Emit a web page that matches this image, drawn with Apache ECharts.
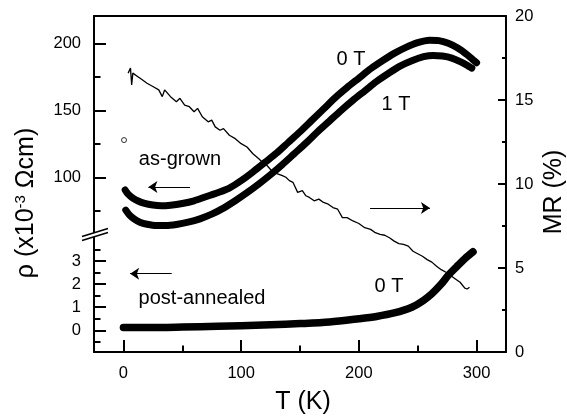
<!DOCTYPE html>
<html><head><meta charset="utf-8">
<script src="https://cdn.jsdelivr.net/npm/echarts@6/dist/echarts.min.js"></script>
<style>html,body{margin:0;padding:0;background:#fff}#c{width:567px;height:420px}</style>
</head><body><div id="c"></div>
<script>
// ---------- data (T in K) ----------
const asGrown0T = [[1.5,90.5],[4,87.5],[8,84.5],[12,82.5],[18,80.5],[25,79.3],[32,78.8],[40,79.2],[50,80.5],[60,82.5],[70,85.5],[80,88.5],[90,92],[100,97.5],[110,104],[120,111],[130,118],[140,126],[150,134],[160,142.5],[170,151],[180,159.5],[190,167],[200,174],[210,181],[220,187],[230,192.5],[240,197],[250,200.5],[260,202.3],[268,202],[276,200],[284,196.5],[292,191.5],[298,187],[300,185.5]];
const asGrown1T = [[2,75.5],[5,72],[9,69],[14,66.5],[20,65],[28,64],[36,64],[45,64.8],[55,66.5],[65,69],[75,72.5],[85,77],[95,82.5],[105,88.5],[115,95],[125,102],[135,109.5],[145,117.5],[155,125.5],[165,134],[175,142],[185,150],[195,157.5],[205,164.5],[215,171.5],[225,177.5],[235,183],[245,187],[255,190],[263,191],[271,190.5],[279,189],[287,186],[293,183],[296,181.5]];
const asGrownOpen = [[0.5,127.8],[2,75.5]];
const postAnnealed0T = [[0,0.12],[20,0.12],[50,0.14],[80,0.17],[100,0.2],[125,0.24],[150,0.29],[175,0.36],[200,0.5],[215,0.6],[230,0.75],[245,1.0],[255,1.3],[262,1.58],[270,2.0],[276,2.38],[283,2.75],[290,3.1],[297,3.4]];
const mrData = [[4,16.6],[6,16.9],[7,15.9],[8,16.6],[12,16.4],[16,16.2],[20,16.0],[25,15.8],[30,15.6],[33,15.2],[35,15.6],[40,15.2],[45,14.9],[48,15.1],[52,14.7],[56,14.6],[60,14.3],[63,14.5],[67,14.0],[72,13.7],[75,13.8],[78,13.4],[82,13.2],[85,13.3],[90,12.9],[95,12.7],[100,12.4],[105,12.2],[110,11.8],[115,11.5],[118,11.3],[122,11.1],[127,10.7],[131,10.6],[135,10.5],[138,10.4],[141,10.2],[144,10.1],[148,9.5],[152,9.6],[155,9.3],[158,9.2],[162,9.0],[166,9.1],[170,8.9],[174,8.8],[178,8.6],[182,8.5],[186,8.0],[190,8.0],[195,7.8],[200,7.65],[205,7.4],[210,7.3],[214,7.1],[218,7.0],[222,6.95],[226,6.8],[230,6.6],[234,6.45],[238,6.4],[242,6.3],[246,6.0],[250,5.85],[254,5.7],[258,5.5],[262,5.35],[266,5.1],[270,4.9],[274,4.75],[278,4.55],[282,4.35],[286,4.15],[290,3.8],[292,3.75],[294,3.85]];

// ---------- tick labels ----------
const tMajor = [0,100,200,300];
const tMinor = [50,150,250];
const mrMajor = [0,5,10,15,20];
const mrMinor = [2.5,7.5,12.5,17.5];
const rhoUpperMajor = [100,150,200];
const rhoUpperMinor = [75,125,175];
const rhoLowerMajor = [0,1,2,3];
const rhoLowerMinor = [-0.5,0.5,1.5,2.5,3.5];

// arrows (data coordinates)
const arrowAsGrown = [[56.6,92.8],[21.2,92.8]];
const arrowPost = [[41,2.45],[5.7,2.45]];
const arrowMR = [[209.5,8.57],[260.4,8.57]];

const FONT = '"Liberation Sans", Arial, Helvetica, sans-serif';
const K = '#000';
const line2 = {color:K,width:2};

function tickAxis(o){
  return Object.assign({
    type:'value', splitLine:{show:false},
    axisLine:{show:false,onZero:false},
    axisLabel:{show:false},
    axisTick:{show:false}
  }, o);
}
function ticks(vals,len){ return {show:true,inside:true,length:len,customValues:vals,lineStyle:{color:K,width:2}}; }
function labels(vals,margin){ return {show:true,customValues:vals,margin:margin,color:K,fontSize:16.5,fontFamily:FONT}; }
function arrowML(pts){
  return {silent:true,symbol:['none','arrow'],symbolSize:9,label:{show:false},
    lineStyle:{color:K,width:1.2,type:'solid'},emphasis:{disabled:true},
    data:[[{coord:pts[0]},{coord:pts[1]}]]};
}
function thick(w){ return {color:K,width:w,cap:'round',join:'round'}; }

const chart = echarts.init(document.getElementById('c'));
chart.setOption({
  animation:false,
  backgroundColor:'#fff',
  grid:[
    {left:94,right:61,top:16,bottom:68},
    {left:94,right:61,top:16,bottom:187.3},
    {left:94,right:61,top:232.7,bottom:68}
  ],
  xAxis:[
    tickAxis({gridIndex:0,min:-25,max:325,position:'bottom',axisLine:{show:true,onZero:false,lineStyle:line2},axisTick:ticks(tMajor,12),axisLabel:labels(tMajor,13)}),
    tickAxis({gridIndex:0,min:-25,max:325,position:'bottom',axisTick:ticks(tMinor,6.5)}),
    tickAxis({gridIndex:0,min:-25,max:325,position:'top',axisLine:{show:true,onZero:false,lineStyle:line2}}),
    tickAxis({gridIndex:1,min:-25,max:325,show:false}),
    tickAxis({gridIndex:2,min:-25,max:325,show:false})
  ],
  yAxis:[
    tickAxis({gridIndex:0,min:0,max:20,position:'right',axisLine:{show:true,onZero:false,lineStyle:line2},axisTick:ticks(mrMajor,8),axisLabel:labels(mrMajor,9)}),
    tickAxis({gridIndex:0,min:0,max:20,position:'right',axisTick:ticks(mrMinor,4)}),
    tickAxis({gridIndex:0,min:0,max:20,position:'left',axisLine:{show:true,onZero:false,lineStyle:line2}}),
    tickAxis({gridIndex:1,min:58.66,max:220.4,position:'left',axisTick:ticks(rhoUpperMajor,12),axisLabel:labels(rhoUpperMajor,13)}),
    tickAxis({gridIndex:1,min:58.66,max:220.4,position:'left',axisTick:ticks(rhoUpperMinor,6.5)}),
    tickAxis({gridIndex:2,min:-0.94,max:4.225,position:'left',axisTick:ticks(rhoLowerMajor,12),axisLabel:labels(rhoLowerMajor,13)}),
    tickAxis({gridIndex:2,min:-0.94,max:4.225,position:'left',axisTick:ticks(rhoLowerMinor,6.5)})
  ],
  series:[
    {type:'line',name:'as-grown 0 T',xAxisIndex:3,yAxisIndex:3,data:asGrown0T,showSymbol:false,smooth:0.3,lineStyle:thick(7),markLine:arrowML(arrowAsGrown)},
    {type:'line',name:'as-grown 1 T',xAxisIndex:3,yAxisIndex:3,data:asGrown1T,showSymbol:false,smooth:0.3,lineStyle:thick(7)},
    {type:'scatter',name:'open',xAxisIndex:3,yAxisIndex:3,data:asGrownOpen,symbol:'circle',symbolSize:5,itemStyle:{color:'#fff',borderColor:K,borderWidth:1}},
    {type:'line',name:'post-annealed 0 T',xAxisIndex:4,yAxisIndex:5,data:postAnnealed0T,showSymbol:false,smooth:0.3,lineStyle:thick(7.5),markLine:arrowML(arrowPost)},
    {type:'line',name:'MR',xAxisIndex:0,yAxisIndex:0,data:mrData,showSymbol:false,lineStyle:{color:K,width:1.3},markLine:arrowML(arrowMR)}
  ],
  graphic:[
    {type:'polygon',z:100,shape:{points:[[82,240.5],[108,232.5],[108,228.5],[82,236.5]]},style:{fill:'#fff'}},
    {type:'line',z:101,shape:{x1:82,y1:240.5,x2:108,y2:232.5},style:{stroke:K,lineWidth:1.5}},
    {type:'line',z:101,shape:{x1:82,y1:236.5,x2:108,y2:228.5},style:{stroke:K,lineWidth:1.5}},
    txt('0 T',351,59,20),
    txt('1 T',396,104,20),
    txt('as-grown',180,159,20),
    txt('post-annealed',202,298,20),
    txt('0 T',389,286,20),
    txt('T (K)',303,402,25),
    Object.assign(txt('MR (%)',554,192,25),{rotation:Math.PI/2}),
    {type:'text',z:100,x:26,y:203,rotation:Math.PI/2,style:{
      text:'{a|ρ (x10}{s|-3}{a| Ωcm)}',fill:K,align:'center',verticalAlign:'middle',textAlign:'center',textVerticalAlign:'middle',
      rich:{a:{fontSize:25,fontFamily:FONT,fill:K,color:K},s:{fontSize:15,fontFamily:FONT,verticalAlign:'top',fill:K,color:K}}
    }}
  ]
});
function txt(t,x,y,fs){
  return {type:'text',z:100,x:x,y:y,style:{text:t,fill:K,fontSize:fs,fontFamily:FONT,align:'center',verticalAlign:'middle',textAlign:'center',textVerticalAlign:'middle'}};
}
</script>
</body></html>
